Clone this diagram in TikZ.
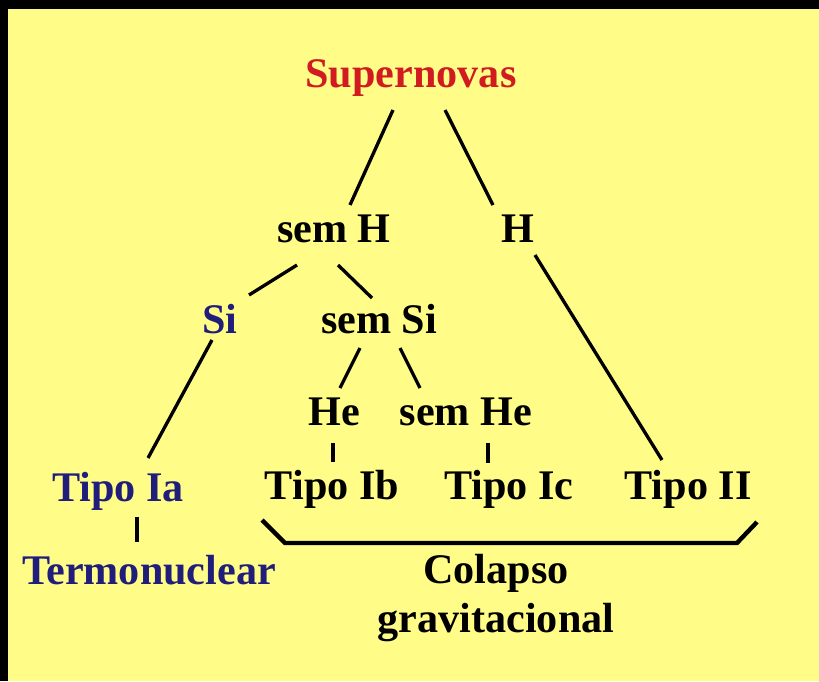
\documentclass[tikz,border=0pt]{standalone}
\usepackage{fontspec}
\setmainfont{Liberation Serif}
\definecolor{panel}{RGB}{255,253,135}
\definecolor{snred}{RGB}{208,28,32}
\definecolor{snblue}{RGB}{32,30,122}
\tikzset{
  lbl/.style={anchor=base, inner sep=0pt, font=\fontsize{24}{28}\selectfont\bfseries},
  link/.style={line width=1.9pt},
}
\begin{document}
\begin{tikzpicture}[x=0.02cm, y=-0.02cm]
      \fill[black] (0, 0) rectangle (819, 681);
      \fill[panel] (8, 9) rectangle (819, 681);
      \useasboundingbox (0, 0) rectangle (819, 681);
      % labels
      \node[lbl, snred] (sup) at (411, 87) {Supernovas};
      \node[lbl] (semH) at (334, 242) {sem H};
      \node[lbl] (H) at (518, 242) {H};
      \node[lbl, snblue] (si) at (220, 333) {Si};
      \node[lbl] (semSi) at (379, 333) {sem Si};
      \node[lbl] (he) at (334, 425) {He};
      \node[lbl] (semHe) at (466, 425) {sem He};
      \node[lbl, snblue] (tipoIa) at (118, 501) {Tipo Ia};
      \node[lbl] (tipoIb) at (332, 499) {Tipo Ib};
      \node[lbl] (tipoIc) at (509, 499) {Tipo Ic};
      \node[lbl] (tipoII) at (688, 499) {Tipo II};
      \node[lbl, snblue] (termo) at (149, 584) {Termonuclear};
      \node[lbl, anchor=north, align=center] (colapso) at (496, 554) {Colapso\\gravitacional};
      % connectors
      \draw[link] ([shift={(-18,23)}]sup.base) -- ([shift={(16,-37)}]semH.base);
      \draw[link] ([shift={(34,23)}]sup.base) -- ([shift={(-25,-37)}]H.base);
      \draw[link] ([shift={(-37,23)}]semH.base) -- ([shift={(29,-38)}]si.base);
      \draw[link] ([shift={(4,23)}]semH.base) -- ([shift={(-7,-35)}]semSi.base);
      \draw[link] ([shift={(-8,7)}]si.base) -- ([shift={(30,-43)}]tipoIa.base);
      \draw[link] ([shift={(-19,15)}]semSi.base) -- ([shift={(6,-37)}]he.base);
      \draw[link] ([shift={(21,15)}]semSi.base) -- ([shift={(-46,-37)}]semHe.base);
      \draw[link] ([shift={(-1,18)}]he.base) -- ([shift={(1,-37)}]tipoIb.base);
      \draw[link] ([shift={(22,18)}]semHe.base) -- ([shift={(-21,-36)}]tipoIc.base);
      \draw[link] ([shift={(17,13)}]H.base) -- ([shift={(-26,-39)}]tipoII.base);
      \draw[link] ([shift={(19,16)}]tipoIa.base) -- ([shift={(-12,-42)}]termo.base);
      % brace under the collapse types
      \draw[line width=2.5pt] (262, 520) -- (285, 543) -- (737, 543) -- (757, 522);
    \end{tikzpicture}
\end{document}
